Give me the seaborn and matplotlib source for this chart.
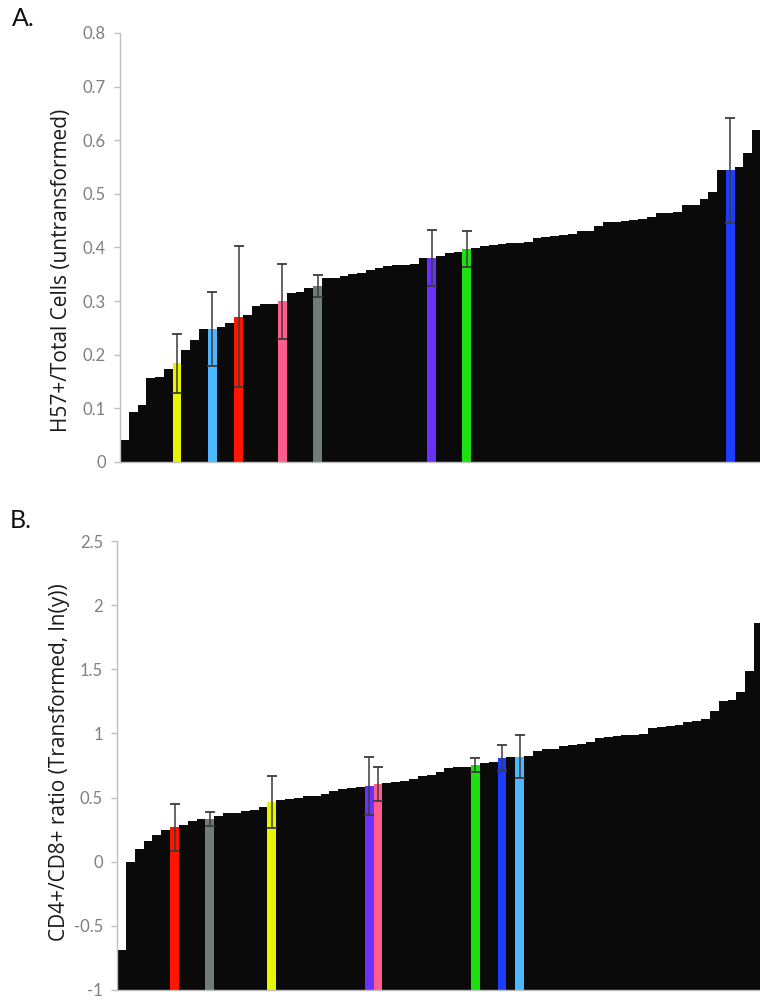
import numpy as np
import pandas as pd
import matplotlib
matplotlib.use("Agg")
import matplotlib.pyplot as plt
import seaborn as sns

# ---------------- Data ----------------
# Panel A: H57+/Total cells (untransformed), sorted strains
h57_values = [
    0.041, 0.094, 0.106, 0.156, 0.159, 0.173, 0.184, 0.208, 0.228, 0.248,
    0.248, 0.252, 0.259, 0.271, 0.274, 0.291, 0.294, 0.294, 0.300, 0.315,
    0.317, 0.325, 0.328, 0.343, 0.344, 0.347, 0.350, 0.352, 0.358, 0.362,
    0.366, 0.367, 0.367, 0.369, 0.381, 0.381, 0.384, 0.389, 0.392, 0.397,
    0.399, 0.402, 0.405, 0.407, 0.408, 0.409, 0.411, 0.417, 0.419, 0.422,
    0.4235, 0.425, 0.430, 0.431, 0.441, 0.447, 0.448, 0.450, 0.452, 0.454,
    0.456, 0.464, 0.465, 0.466, 0.480, 0.480, 0.491, 0.503, 0.544, 0.544,
    0.551, 0.576, 0.619,
]
h57_highlight_idx = [6, 10, 13, 18, 22, 35, 39, 69]
h57_highlight_err = [0.055, 0.069, 0.131, 0.070, 0.020, 0.052, 0.034, 0.098]
h57_highlight_colors = ["#E8F500", "#4DB8FF", "#FF1400", "#FF5C8D",
                        "#707C7C", "#6A30FF", "#1EE010", "#1E3CFF"]
h57_ticks = [0, 0.1, 0.2, 0.3, 0.4, 0.5, 0.6, 0.7, 0.8]

# Panel B: CD4+/CD8+ ratio (transformed, ln(y)), sorted strains
cd_values = [
    -0.688, 0.0, 0.10, 0.165, 0.205, 0.244, 0.267, 0.283, 0.32, 0.332,
    0.332, 0.36, 0.378, 0.381, 0.397, 0.402, 0.426, 0.465, 0.478, 0.488,
    0.50, 0.51, 0.515, 0.527, 0.55, 0.566, 0.576, 0.586, 0.59, 0.605,
    0.612, 0.62, 0.63, 0.643, 0.667, 0.677, 0.70, 0.73, 0.736, 0.74,
    0.754, 0.767, 0.775, 0.808, 0.818, 0.82, 0.825, 0.862, 0.875, 0.88,
    0.90, 0.909, 0.914, 0.935, 0.966, 0.974, 0.979, 0.984, 0.99, 0.992,
    1.039, 1.049, 1.057, 1.065, 1.088, 1.096, 1.109, 1.174, 1.251, 1.259,
    1.321, 1.49, 1.861,
]
cd_highlight_idx = [6, 10, 17, 28, 29, 40, 43, 45]
cd_highlight_err = [0.186, 0.053, 0.203, 0.227, 0.132, 0.055, 0.098, 0.168]
cd_highlight_colors = ["#FF1400", "#707C7C", "#E8F500", "#6A30FF",
                       "#FF5C8D", "#1EE010", "#1E3CFF", "#4DB8FF"]
cd_ticks = [-1, -0.5, 0, 0.5, 1, 1.5, 2, 2.5]

# ---------------- Style ----------------
sns.set_theme(style="white")
plt.rcParams["font.family"] = ["Lato", "DejaVu Sans"]

BAR_BLACK = "#0a0a0a"
SPINE = "#bfbfbf"
TICKTXT = "#7f7f7f"


def draw_panel(ax, values, idx, errs, colors, base, ticks, ylabel, label_xy):
    n = len(values)
    cats = [str(i) for i in range(n)]
    cols = [BAR_BLACK] * n
    for i, c in zip(idx, colors):
        cols[i] = c
    df = pd.DataFrame({"cat": cats, "val": np.asarray(values) - base})
    sns.barplot(data=df, x="cat", y="val", hue="cat", order=cats,
                hue_order=cats, palette=cols, legend=False, width=1.0,
                saturation=1, bottom=base, linewidth=0, ax=ax)
    ax.errorbar(idx, [values[i] for i in idx], yerr=errs, fmt="none",
                ecolor="#3c3c3c", elinewidth=1.1, capsize=3.5, capthick=1.3,
                zorder=5)
    ax.set_xlim(-0.5, n - 0.5)
    ax.set_ylim(ticks[0], ticks[-1])
    ax.set_yticks(ticks)
    ax.set_yticklabels([f"{t:g}" for t in ticks], color=TICKTXT, fontsize=12)
    ax.set_xticks([])
    ax.set_xlabel("")
    ax.set_ylabel(ylabel, fontsize=15, color="#1a1a1a",
                  family=["Open Sans", "DejaVu Sans"])
    ax.yaxis.set_label_coords(*label_xy)
    for s in ["top", "right"]:
        ax.spines[s].set_visible(False)
    for s in ["left", "bottom"]:
        ax.spines[s].set_color(SPINE)
        ax.spines[s].set_linewidth(1.0)
    ax.tick_params(axis="y", which="both", left=True, length=4, width=1,
                   color=SPINE, pad=6)


fig = plt.figure(figsize=(7.6, 10), dpi=100)

axA = fig.add_axes([120 / 760, 1 - 462 / 1000, 641 / 760, 429 / 1000])
draw_panel(axA, h57_values, h57_highlight_idx, h57_highlight_err,
           h57_highlight_colors, 0.0, h57_ticks,
           "H57+/Total Cells (untransformed)",
           ((72 - 120) / 641, (462 - 270) / 429))

axB = fig.add_axes([117 / 760, 1 - 990 / 1000, 646 / 760, 449 / 1000])
draw_panel(axB, cd_values, cd_highlight_idx, cd_highlight_err,
           cd_highlight_colors, -1.0, cd_ticks,
           "CD4+/CD8+ ratio (Transformed, ln(y))",
           ((70 - 117) / 646, (990 - 762) / 449))

fig.text(12 / 760, 1 - 18 / 1000, "A.", fontsize=18, va="center", ha="left",
         color="#111111")
fig.text(10 / 760, 1 - 520 / 1000, "B.", fontsize=18, va="center", ha="left",
         color="#111111")

fig.savefig("out.png", dpi=100)
